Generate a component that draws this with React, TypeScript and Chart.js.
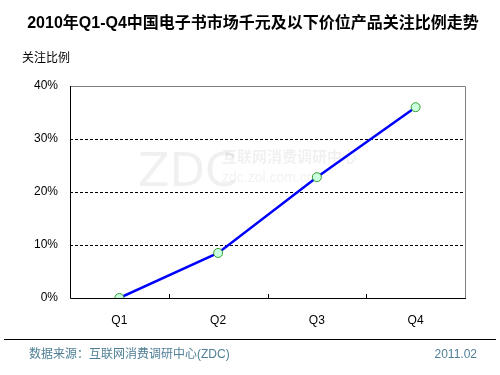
import React, { useEffect, useRef } from "react";
import { Chart, registerables } from "chart.js";

Chart.register(...registerables);

const TITLE = "2010年Q1-Q4中国电子书市场千元及以下价位产品关注比例走势";
const Y_TITLE = "关注比例";
const SOURCE = "数据来源：互联网消费调研中心(ZDC)";
const DATE = "2011.02";
const categories = ["Q1", "Q2", "Q3", "Q4"];
const values = [0, 8.5, 22.8, 36];
const yTicks = [0, 10, 20, 30, 40];

const FONT = "Arial, 'Liberation Sans', 'Noto Sans CJK SC', sans-serif";

const decor = {
  id: "decor",
  beforeDatasetsDraw(chart: any) {
    const { ctx } = chart;
    ctx.save();
    // watermark
    ctx.fillStyle = "rgba(0,0,0,0.06)";
    ctx.font = "46px 'DejaVu Sans', sans-serif";
    ctx.textBaseline = "alphabetic";
    ctx.textAlign = "left";
    ctx.fillText("ZDC", 138, 186);
    ctx.font = "bold 15px 'Noto Sans CJK SC', sans-serif";
    ctx.fillText("互联网消费调研中心", 222, 162);
    ctx.font = "14px " + FONT;
    ctx.fillText("zdc.zol.com.cn", 222, 182);
    ctx.restore();
  },
  afterDraw(chart: any) {
    const { ctx, chartArea: a, scales } = chart;
    ctx.save();
    // borders
    ctx.lineWidth = 1;
    ctx.strokeStyle = "#808080";
    ctx.beginPath();
    ctx.moveTo(a.left, a.top + 0.5);
    ctx.lineTo(a.right + 0.5, a.top + 0.5);
    ctx.lineTo(a.right + 0.5, a.bottom);
    ctx.stroke();
    ctx.strokeStyle = "#000";
    ctx.beginPath();
    ctx.moveTo(a.left + 0.5, a.top);
    ctx.lineTo(a.left + 0.5, a.bottom + 0.5);
    ctx.lineTo(a.right + 1, a.bottom + 0.5);
    ctx.stroke();
    // inward x ticks between categories
    const xs = scales.x;
    ctx.beginPath();
    for (let i = 1; i < categories.length; i++) {
      const x = Math.round((xs.getPixelForTick(i - 1) + xs.getPixelForTick(i)) / 2) + 0.5;
      ctx.moveTo(x, a.bottom - 4);
      ctx.lineTo(x, a.bottom);
    }
    ctx.stroke();
    // title
    ctx.fillStyle = "#000";
    ctx.textAlign = "center";
    ctx.textBaseline = "middle";
    ctx.font = "bold 16px " + FONT;
    ctx.fillText(TITLE, 253, 24);
    ctx.textAlign = "left";
    ctx.font = "12px " + FONT;
    ctx.fillText(Y_TITLE, 22, 59);
    // footer line
    ctx.beginPath();
    ctx.moveTo(4, 339.5);
    ctx.lineTo(496, 339.5);
    ctx.stroke();
    ctx.fillStyle = "#4f7f96";
    ctx.font = "12px " + FONT;
    ctx.fillText(SOURCE, 29, 355);
    ctx.textAlign = "right";
    ctx.fillText(DATE, 477, 355);
    ctx.restore();
  },
};

export default function App() {
  const ref = useRef<HTMLCanvasElement>(null);
  useEffect(() => {
    const chart = new Chart(ref.current!, {
      type: "line",
      data: {
        labels: categories,
        datasets: [
          {
            data: values,
            borderColor: "#0000ff",
            borderWidth: 2.5,
            pointRadius: 4.5,
            pointBackgroundColor: "#ccffdd",
            pointBorderColor: "#33a033",
            pointBorderWidth: 1,
            tension: 0,
          },
        ],
      },
      options: {
        animation: false,
        responsive: false,
        maintainAspectRatio: false,
        layout: { padding: { top: 86, right: 35, left: 0, bottom: 0 } },
        plugins: { legend: { display: false }, tooltip: { enabled: false } },
        scales: {
          x: {
            offset: true,
            afterFit: (s: any) => { s.height = 77; },
            grid: { display: false },
            border: { display: false },
            ticks: { color: "#000", font: { size: 12, family: FONT }, padding: 7 },
          },
          y: {
            min: 0,
            max: 40,
            afterFit: (s: any) => { s.width = 70; },
            afterBuildTicks: (s: any) => { s.ticks = yTicks.map((v) => ({ value: v })); },
            grid: {
              drawTicks: false,
              color: (c: any) => (c.tick && (c.tick.value === 0 || c.tick.value === 40) ? "rgba(0,0,0,0)" : "#000"),
              lineWidth: 1,
            },
            border: { display: false, dash: [3, 2] },
            ticks: {
              color: "#000",
              font: { size: 12, family: FONT },
              padding: 12,
              callback: (v: any) => v + "%",
            },
          },
        },
      },
      plugins: [decor],
    });
    return () => chart.destroy();
  }, []);
  return (
    <div style={{ position: "absolute", left: 0, top: 0, width: 500, height: 375, background: "#fff" }}>
      <canvas ref={ref} width={500} height={375} />
    </div>
  );
}
